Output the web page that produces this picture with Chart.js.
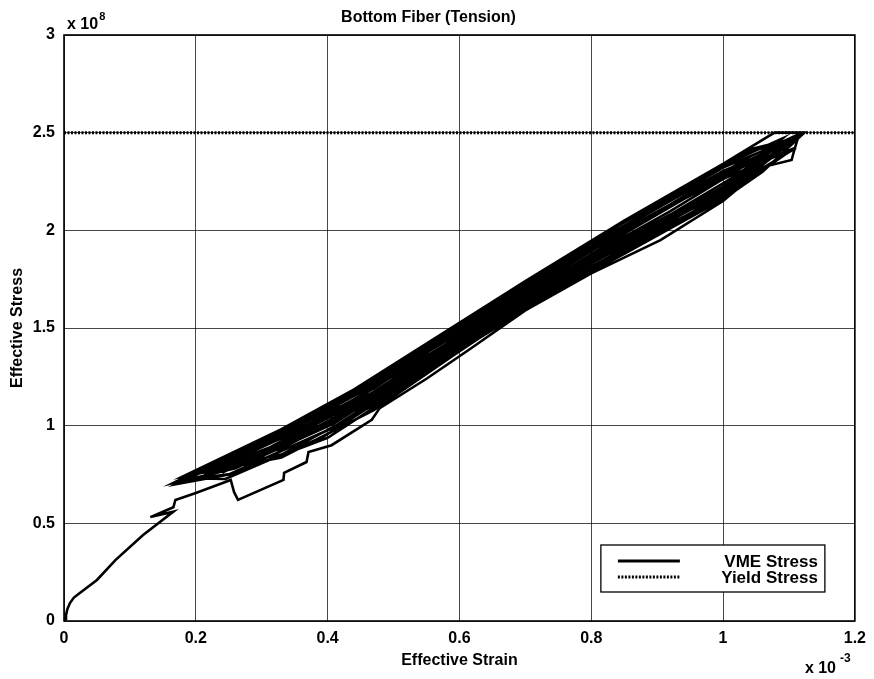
<!DOCTYPE html>
<html>
<head>
<meta charset="utf-8">
<script src="https://cdn.jsdelivr.net/npm/chart.js@4/dist/chart.umd.min.js"></script>
<style>
  html, body { margin: 0; padding: 0; background: #fff; }
  #wrap { width: 874px; height: 679px; }
</style>
</head>
<body>
<div id="wrap"><canvas id="c" width="874" height="679"></canvas></div>
<script>
// Text
const chartTitle = 'Bottom Fiber (Tension)';
const xAxisTitle = 'Effective Strain';
const yAxisTitle = 'Effective Stress';
const vmeLabel = 'VME Stress';
const yieldLabel = 'Yield Stress';

// Axis ticks (values in scaled units) and their labels
const xTickLabels = ['0', '0.2', '0.4', '0.6', '0.8', '1', '1.2'];
const yTickLabels = ['0', '0.5', '1', '1.5', '2', '2.5', '3'];
const xExponent = '-3';   // strain shown in units of 10^-3
const yExponent = '8';    // stress shown in units of 10^8

// VME stress path: strain (x 10^-3) and stress (x 10^8), in load order
const vmeStrain = [
  // initial loading
  0.000, 0.002, 0.003, 0.005, 0.009, 0.015, 0.024, 0.050, 0.078, 0.120, 0.166,
  0.131, 0.166, 0.169,
  // first stepped loading
  0.200, 0.253, 0.258, 0.264, 0.333, 0.334, 0.368, 0.371, 0.406, 0.467, 0.479,
  0.550, 0.615, 0.700, 0.800, 0.905, 1.000, 1.062, 1.104, 1.108, 1.115, 1.120,
  1.078, 1.000, 0.850, 0.700, 0.550, 0.400, 0.250, 0.166,
  // cycle 2
  0.260, 0.410, 0.545, 0.700, 0.860, 0.995, 1.100,
  1.010, 0.845, 0.700, 0.560, 0.400, 0.255, 0.190,
  // cycle 3
  0.245, 0.395, 0.550, 0.705, 0.850, 1.005, 1.108,
  0.990, 0.855, 0.695, 0.545, 0.405, 0.250, 0.200,
  // cycle 4
  0.255, 0.400, 0.555, 0.695, 0.845, 1.000, 1.090,
  1.005, 0.850, 0.705, 0.550, 0.395, 0.245, 0.170,
  // cycle 5
  0.250, 0.405, 0.550, 0.710, 0.850, 1.000, 1.115,
  0.995, 0.860, 0.700, 0.555, 0.400, 0.260, 0.210,
  // cycle 6
  0.250, 0.395, 0.545, 0.700, 0.855, 1.010, 1.100,
  1.000, 0.850, 0.695, 0.550, 0.405, 0.250, 0.180,
  // cycle 7
  0.255, 0.400, 0.550, 0.700, 0.850, 1.000, 1.060, 1.120,
  1.000, 0.850, 0.700, 0.550, 0.400, 0.250, 0.200,
  // cycle 8
  0.330, 0.470, 0.620, 0.770, 0.920, 1.040, 1.105,
  1.040, 0.920, 0.770, 0.620, 0.470, 0.330, 0.210,
  // cycle 9
  0.330, 0.470, 0.620, 0.770, 0.920, 1.040, 1.110,
  1.040, 0.920, 0.770, 0.620, 0.470, 0.330, 0.230,
  // cycle 10
  0.330, 0.470, 0.620, 0.770, 0.920, 1.040, 1.095,
  1.040, 0.920, 0.770, 0.620, 0.470, 0.330, 0.180,
  // cycle 11
  0.330, 0.470, 0.620, 0.770, 0.920, 1.040, 1.100,
  1.040, 0.920, 0.770, 0.620, 0.470, 0.330, 0.240,
  // cycle 12
  0.330, 0.470, 0.620, 0.770, 0.920, 1.040, 1.120,
  1.040, 0.920, 0.770, 0.620, 0.470, 0.330, 0.200
];
const vmeStress = [
  0.000, 0.010, 0.030, 0.060, 0.092, 0.120, 0.143, 0.210, 0.312, 0.440, 0.560,
  0.532, 0.582, 0.620,
  0.655, 0.722, 0.660, 0.620, 0.722, 0.758, 0.814, 0.865, 0.900, 1.030, 1.090,
  1.240, 1.390, 1.590, 1.780, 1.950, 2.150, 2.325, 2.360, 2.410, 2.488, 2.500,
  2.500, 2.340, 2.050, 1.740, 1.420, 1.100, 0.848, 0.707,
  0.782, 1.012, 1.306, 1.642, 1.942, 2.186, 2.400,
  2.342, 2.014, 1.705, 1.408, 1.082, 0.840, 0.730,
  0.727, 0.946, 1.284, 1.624, 1.897, 2.179, 2.420,
  2.248, 2.009, 1.674, 1.362, 1.047, 0.817, 0.720,
  0.797, 1.019, 1.350, 1.653, 1.938, 2.223, 2.470,
  2.341, 2.042, 1.736, 1.404, 1.081, 0.832, 0.700,
  0.750, 0.984, 1.300, 1.648, 1.906, 2.178, 2.480,
  2.267, 2.002, 1.670, 1.366, 1.055, 0.831, 0.740,
  0.774, 0.991, 1.322, 1.649, 1.941, 2.225, 2.440,
  2.304, 2.016, 1.702, 1.396, 1.083, 0.823, 0.720,
  0.753, 0.938, 1.268, 1.607, 1.880, 2.160, 2.300, 2.490,
  2.322, 2.042, 1.733, 1.412, 1.100, 0.848, 0.760,
  0.883, 1.130, 1.457, 1.777, 2.046, 2.290, 2.450,
  2.407, 2.159, 1.870, 1.547, 1.215, 0.967, 0.770,
  0.852, 1.105, 1.434, 1.746, 2.020, 2.283, 2.470,
  2.360, 2.124, 1.839, 1.531, 1.190, 0.936, 0.780,
  0.913, 1.164, 1.487, 1.808, 2.081, 2.321, 2.460,
  2.414, 2.176, 1.885, 1.562, 1.241, 0.982, 0.740,
  0.837, 1.079, 1.427, 1.739, 2.011, 2.275, 2.400,
  2.345, 2.098, 1.816, 1.509, 1.173, 0.921, 0.760,
  0.898, 1.147, 1.472, 1.793, 2.063, 2.306, 2.500,
  2.376, 2.133, 1.854, 1.531, 1.207, 0.951, 0.750
];

// Yield stress level across the strain range
const yieldStrain = [0, 1.2];
const yieldStress = [2.5, 2.5];

const FONT = "'Liberation Sans', Arial, Helvetica, sans-serif";
Chart.defaults.font.family = FONT;
Chart.defaults.font.weight = 'bold';
Chart.defaults.color = '#000';

const toPoints = (xs, ys) => xs.map((x, i) => ({ x: x, y: ys[i] }));

// Frame, boxed legend and axis multipliers
const decorations = {
  id: 'decorations',
  afterDraw(chart) {
    const ctx = chart.ctx;
    const ca = chart.chartArea;
    ctx.save();

    // plot frame
    ctx.strokeStyle = '#000';
    ctx.lineWidth = 1.6;
    ctx.setLineDash([]);
    ctx.strokeRect(ca.left, ca.top, ca.right - ca.left, ca.bottom - ca.top);

    // legend box
    const bw = 224, bh = 47;
    const bx = ca.right - 254, by = ca.bottom - 76;
    ctx.fillStyle = '#fff';
    ctx.fillRect(bx, by, bw, bh);
    ctx.lineWidth = 1.3;
    ctx.strokeRect(bx, by, bw, bh);
    ctx.font = 'bold 17px ' + FONT;
    ctx.textAlign = 'right';
    ctx.textBaseline = 'middle';
    chart.data.datasets.forEach((ds, i) => {
      const y = by + 16 + i * 16;
      ctx.beginPath();
      ctx.lineWidth = 3;
      ctx.strokeStyle = ds.borderColor;
      ctx.setLineDash(ds.borderDash || []);
      ctx.moveTo(bx + 17, y);
      ctx.lineTo(bx + 79, y);
      ctx.stroke();
      ctx.setLineDash([]);
      ctx.fillStyle = '#000';
      ctx.fillText(ds.label, bx + bw - 7, y + 1);
    });

    // axis multipliers
    ctx.textAlign = 'left';
    ctx.textBaseline = 'alphabetic';
    ctx.fillStyle = '#000';
    ctx.font = 'bold 16px ' + FONT;
    let x0 = ca.left + 3, y0 = ca.top - 6;
    ctx.fillText('x 10', x0, y0);
    let w = ctx.measureText('x 10').width;
    ctx.font = 'bold 11px ' + FONT;
    ctx.fillText(yExponent, x0 + w + 1, y0 - 9);

    ctx.font = 'bold 16px ' + FONT;
    x0 = ca.right - 50; y0 = ca.bottom + 52;
    ctx.fillText('x 10', x0, y0);
    w = ctx.measureText('x 10').width;
    ctx.font = 'bold 12px ' + FONT;
    ctx.fillText(xExponent, x0 + w + 4, y0 - 11);

    ctx.restore();
  }
};

const gridStyle = {
  color: 'rgba(0,0,0,0.72)',
  lineWidth: 1,
  drawTicks: false,
  borderDash: [3, 2]
};

new Chart(document.getElementById('c'), {
  type: 'scatter',
  data: {
    datasets: [
      {
        label: vmeLabel,
        data: toPoints(vmeStrain, vmeStress),
        showLine: true,
        borderColor: '#000',
        borderWidth: 2.6,
        pointRadius: 0,
        tension: 0,
        fill: false
      },
      {
        label: yieldLabel,
        data: toPoints(yieldStrain, yieldStress),
        showLine: true,
        borderColor: '#000',
        borderWidth: 3,
        borderDash: [2, 1.5],
        pointRadius: 0,
        tension: 0,
        fill: false
      }
    ]
  },
  options: {
    responsive: false,
    animation: false,
    devicePixelRatio: 1,
    layout: { padding: { left: 0, right: 17, top: 0, bottom: 0 } },
    plugins: {
      legend: { display: false },
      tooltip: { enabled: false },
      title: {
        display: true,
        text: chartTitle,
        font: { size: 16, weight: 'bold' },
        color: '#000',
        padding: { top: 8, bottom: 7.8 }
      }
    },
    scales: {
      x: {
        type: 'linear',
        min: 0,
        max: 1.2,
        ticks: {
          stepSize: 0.2,
          padding: 8,
          font: { size: 16, weight: 'bold' },
          color: '#000',
          maxRotation: 0,
          callback: (v, i) => xTickLabels[i]
        },
        grid: gridStyle,
        border: { display: false },
        title: {
          display: true,
          text: xAxisTitle,
          font: { size: 16, weight: 'bold' },
          color: '#000',
          padding: { top: 0, bottom: 9 }
        },
        afterFit(scale) { scale.height = 58; }
      },
      y: {
        type: 'linear',
        min: 0,
        max: 3,
        ticks: {
          stepSize: 0.5,
          padding: 9,
          font: { size: 16, weight: 'bold' },
          color: '#000',
          callback: (v, i) => yTickLabels[i]
        },
        grid: gridStyle,
        border: { display: false },
        title: {
          display: true,
          text: yAxisTitle,
          font: { size: 16, weight: 'bold' },
          color: '#000',
          padding: { top: 8, bottom: 0 }
        },
        afterFit(scale) { scale.width = 64; }
      }
    }
  },
  plugins: [decorations]
});
</script>
</body>
</html>
